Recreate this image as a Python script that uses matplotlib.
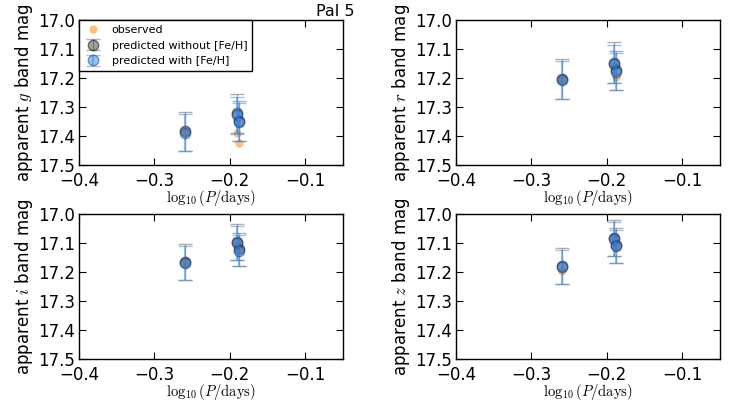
import matplotlib
matplotlib.use("Agg")
import matplotlib.pyplot as plt
import numpy as np

bands = ["g", "r", "i", "z"]
log_period = [-0.260, -0.191, -0.188]

observed = {
    "g": [17.386, 17.390, 17.425],
    "r": [17.205, 17.160, 17.196],
    "i": [17.166, 17.100, 17.120],
    "z": [17.196, 17.080, 17.108],
}
pred_nofeh = {
    "g": [17.384, 17.322, 17.348],
    "r": [17.204, 17.147, 17.174],
    "i": [17.164, 17.096, 17.122],
    "z": [17.180, 17.082, 17.108],
}
pred_feh = {
    "g": [17.388, 17.328, 17.352],
    "r": [17.208, 17.152, 17.178],
    "i": [17.168, 17.100, 17.126],
    "z": [17.183, 17.086, 17.112],
}
err_nofeh = {
    "g": [0.068, 0.068, 0.068],
    "r": [0.070, 0.070, 0.066],
    "i": [0.062, 0.062, 0.058],
    "z": [0.062, 0.062, 0.060],
}
err_feh = {
    "g": [0.065, 0.064, 0.066],
    "r": [0.066, 0.066, 0.064],
    "i": [0.058, 0.058, 0.055],
    "z": [0.058, 0.058, 0.056],
}

xticks = [-0.4, -0.3, -0.2, -0.1]
yticks = [17.0, 17.1, 17.2, 17.3, 17.4, 17.5]

plt.rcParams["mathtext.fontset"] = "cm"
plt.rcParams["font.family"] = "DejaVu Sans"
plt.rcParams["xtick.direction"] = "in"
plt.rcParams["ytick.direction"] = "in"
plt.rcParams["xtick.top"] = True
plt.rcParams["ytick.right"] = True
plt.rcParams["xtick.major.size"] = 5
plt.rcParams["ytick.major.size"] = 5
plt.rcParams["xtick.major.pad"] = 5
plt.rcParams["ytick.major.pad"] = 3
plt.rcParams["axes.linewidth"] = 1.0

fig = plt.figure(figsize=(7.5, 4.0), dpi=100)
lefts = [79 / 750, 456 / 750]
tops = [20, 214]
h = 145
w = 264 / 750

for k, b in enumerate(bands):
    row, col = divmod(k, 2)
    ax = fig.add_axes([lefts[col], 1 - (tops[row] + h) / 400, w, h / 400])
    ax.plot(log_period, observed[b], "o", color="#ffa030", alpha=0.65,
            markersize=6, markeredgecolor="none", label="observed", zorder=2)
    ax.errorbar(log_period, pred_nofeh[b], yerr=err_nofeh[b], fmt="o",
                color="#404040", ecolor="#606060", alpha=0.5, markersize=7.5,
                capsize=5, elinewidth=1, markeredgecolor="k",
                label="predicted without [Fe/H]", zorder=3)
    ax.errorbar(log_period, pred_feh[b], yerr=err_feh[b], fmt="o",
                color="#3388ee", ecolor="#3388ee", alpha=0.5, markersize=7.5,
                capsize=5, elinewidth=1.5, markeredgecolor="#1a3a70",
                label="predicted with [Fe/H]", zorder=4)
    ax.set_xlim(-0.4, -0.05)
    ax.set_ylim(17.5, 17.0)
    ax.set_xticks(xticks)
    ax.set_xticklabels(["\u2212%.1f" % abs(t) for t in xticks], fontsize=12)
    ax.set_yticks(yticks)
    ax.set_yticklabels(["%.1f" % t for t in yticks], fontsize=12)
    ax.set_xlabel(r"$\log_{10}(P/\mathrm{days})$", fontsize=10.5, labelpad=-1.5)
    ax.set_ylabel(r"apparent $%s$ band mag" % b, fontsize=12, labelpad=2)
    if k == 0:
        leg = ax.legend(loc="upper left", fontsize=8, numpoints=1,
                        fancybox=False, framealpha=1.0, borderaxespad=0,
                        handletextpad=0.9, labelspacing=0.5,
                        borderpad=0.45, handlelength=1.6)
        leg.get_frame().set_edgecolor("k")
        leg.get_frame().set_linewidth(1.0)

fig.text(355 / 750, 1 - 16 / 400, "Pal 5", ha="right", va="baseline",
         fontsize=11.5)

fig.savefig("out.png", dpi=100)
